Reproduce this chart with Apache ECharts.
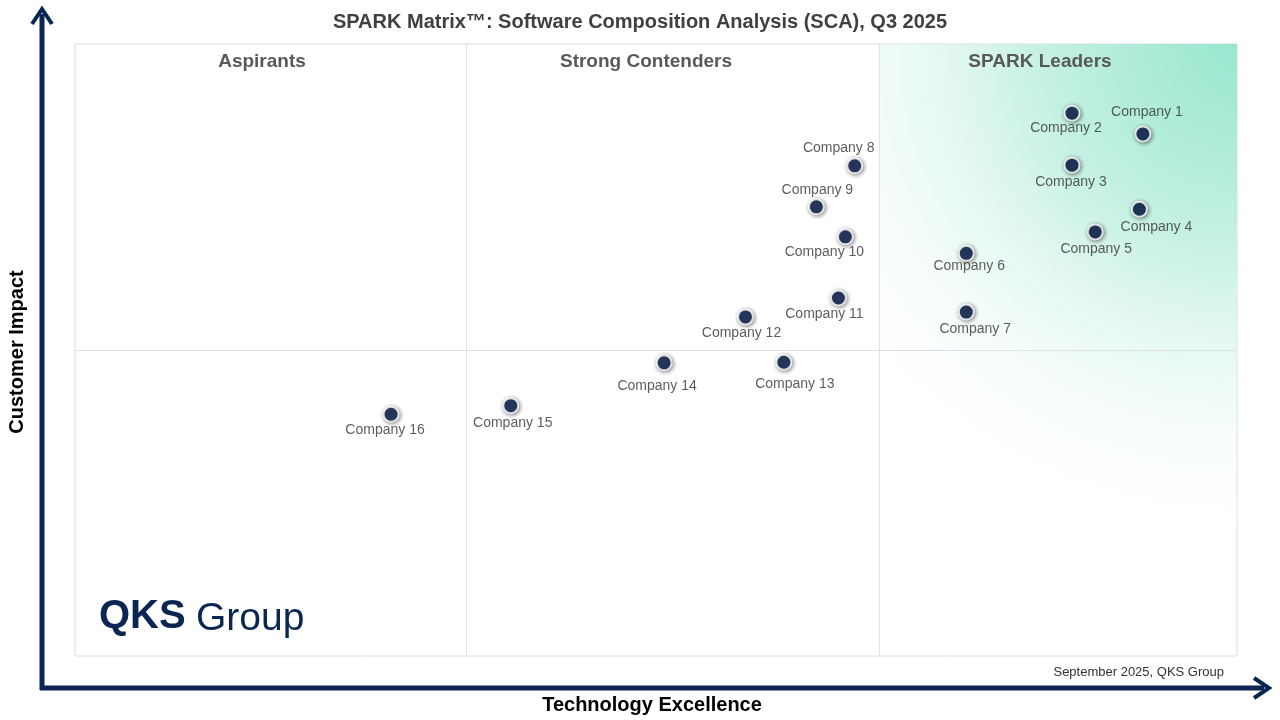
<!DOCTYPE html>
<html><head><meta charset="utf-8">
<script src="https://cdn.jsdelivr.net/npm/echarts@6/dist/echarts.min.js"></script>
<style>html,body{margin:0;background:#fff}#c{width:1280px;height:720px}</style>
</head><body><div id="c"></div>
<script>
// company positions on a 0-100 scale (technology excellence, customer impact)
const companies = ["Company 1","Company 2","Company 3","Company 4","Company 5","Company 6","Company 7","Company 8",
  "Company 9","Company 10","Company 11","Company 12","Company 13","Company 14","Company 15","Company 16"];
const techExcellence = [91.9,85.8,85.8,91.6,87.8,76.7,76.7,67.1,63.8,66.3,65.7,57.7,61.0,50.7,37.5,27.2];
const customerImpact = [85.3,88.7,80.2,73.0,69.3,65.8,56.2,80.1,73.4,68.5,58.5,55.4,48.0,47.9,40.9,39.5];
const quadrantNames = ["Aspirants","Strong Contenders","SPARK Leaders"];
const xDividers = [33.7, 69.2];
const yDivider = 50;

// label offsets in px relative to the point (style only)
const labelOffsets = [[4,-22],[-6,15],[-1,17],[17,18],[1,17],[3,13],[9,17],[-16,-18],[1,-17],[-21,15],[-14,16],[-4,16],[11,22],[-7,23],[2,17],[-6,16]];

const chart = echarts.init(document.getElementById('c'));
const navy = '#0b2652';
const points = companies.map((n,i)=>({
  name:n, value:[techExcellence[i],customerImpact[i]],
  label:{offset:labelOffsets[i]}
}));

chart.setOption({
  animation:false,
  title:{text:'SPARK Matrix™: Software Composition Analysis (SCA), Q3 2025',left:'center',top:7,
    textStyle:{fontFamily:'Liberation Sans',fontSize:20,fontWeight:'bold',color:'#404040'}},
  grid:{left:75,right:43,top:44,bottom:64,show:true,borderColor:'#dcdcdc',borderWidth:1},
  xAxis:{type:'value',min:0,max:100,show:false},
  yAxis:{type:'value',min:0,max:100,show:false},
  graphic:[
    {type:'line',z:100,shape:{x1:42,y1:690,x2:42,y2:14},style:{stroke:navy,lineWidth:5}},
    {type:'polyline',z:100,shape:{points:[[32,24],[42,9],[52,24]]},style:{stroke:navy,lineWidth:4,fill:null}},
    {type:'line',z:100,shape:{x1:40,y1:688,x2:1264,y2:688},style:{stroke:navy,lineWidth:5}},
    {type:'polyline',z:100,shape:{points:[[1254,678],[1269,688],[1254,698]]},style:{stroke:navy,lineWidth:4,fill:null}},
    {type:'text',z:100,x:652,y:705,style:{text:'Technology Excellence',fill:'#000',font:'bold 20px Liberation Sans',align:'center',verticalAlign:'middle'}},
    {type:'text',z:100,x:17,y:352,rotation:Math.PI/2,style:{text:'Customer Impact',fill:'#000',font:'bold 20px Liberation Sans',align:'center',verticalAlign:'middle'}},
    {type:'text',z:100,x:1224,y:672,style:{text:'September 2025, QKS Group',fill:'#333',font:'13px Liberation Sans',align:'right',verticalAlign:'middle'}},
    {type:'text',z:100,x:99,y:617,style:{text:'QKS',fill:navy,font:'bold 40px Liberation Sans',verticalAlign:'middle'}},
    {type:'text',z:100,x:196,y:619,style:{text:'Group',fill:navy,font:'39px Liberation Sans',verticalAlign:'middle'}},
    ...quadrantNames.map((q,i)=>({type:'text',z:100,x:[262,646,1040][i],y:62,
      style:{text:q,fill:'#595959',font:'bold 19px Liberation Sans',align:'center',verticalAlign:'middle'}}))
  ],
  series:[{
    type:'scatter',
    symbolSize:15,
    itemStyle:{color:'#0a2150',borderColor:'#fff',borderWidth:2,shadowBlur:4,shadowColor:'rgba(0,0,0,0.55)',shadowOffsetX:1,shadowOffsetY:1},
    label:{show:true,position:'inside',formatter:'{b}',color:'#333',fontFamily:'Liberation Sans',fontSize:14},
    data:points,
    markArea:{silent:true,z:1,itemStyle:{color:{type:'radial',x:1,y:0,r:1.6,colorStops:[{offset:0,color:'#98e6cf'},{offset:0.35,color:'#c6f1e3'},{offset:0.9,color:'rgba(255,255,255,0)'}]}},
      data:[[{coord:[xDividers[1],100]},{coord:[100,0]}]]},
    markLine:{silent:true,symbol:'none',label:{show:false},lineStyle:{color:'#e0e0e0',width:1,type:'solid'},
      data:[...xDividers.map(x=>({xAxis:x})),{yAxis:yDivider}]}
  }]
});
</script></body></html>
